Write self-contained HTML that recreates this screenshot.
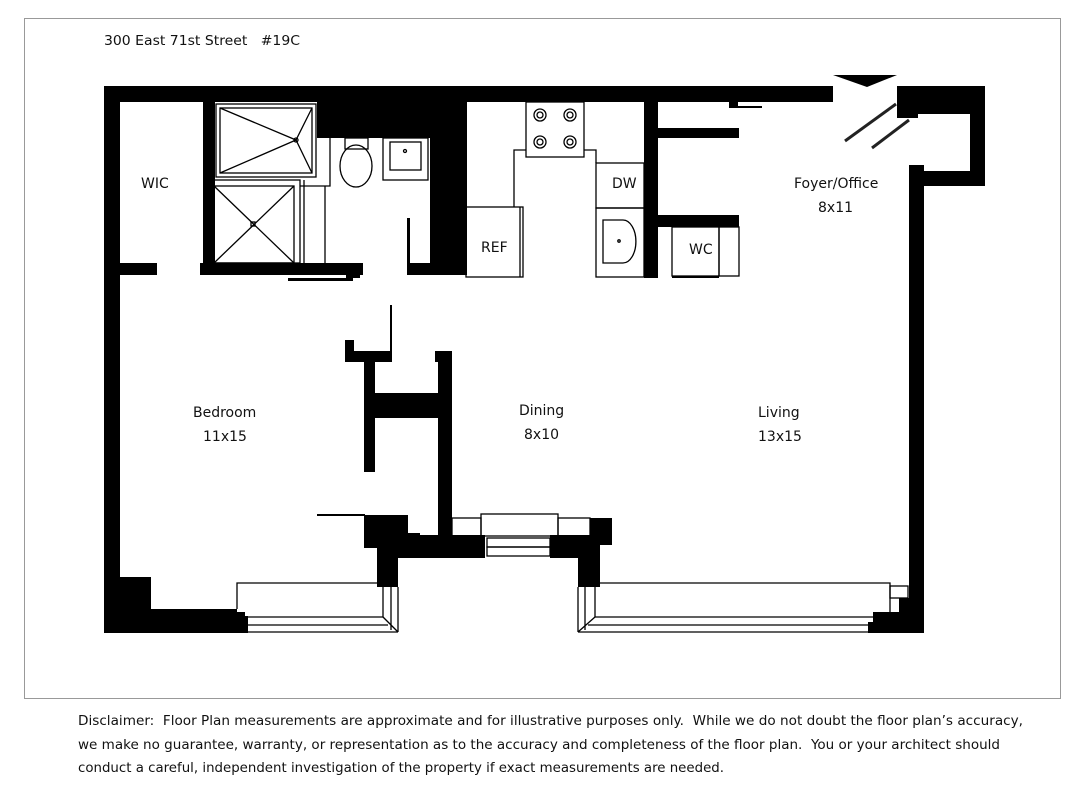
<!DOCTYPE html>
<html><head><meta charset="utf-8"><style>
html,body{margin:0;padding:0;background:#fff;}
svg{display:block;}
text{font-family:"DejaVu Sans","Liberation Sans",sans-serif;fill:#111;}
</style></head><body>
<svg width="1084" height="800" viewBox="0 0 1084 800" xmlns="http://www.w3.org/2000/svg">
<rect x="0" y="0" width="1084" height="800" fill="#fff"/>
<rect x="24.5" y="18.5" width="1036" height="680" fill="none" stroke="#999" stroke-width="1"/>
<text x="104" y="45" font-size="13" textLength="196" lengthAdjust="spacingAndGlyphs">300 East 71st Street&#160;&#160;&#160;#19C</text>

<g fill="#000">
<!-- top wall -->
<rect x="104" y="86" width="729" height="16"/>
<!-- door header triangle -->
<polygon points="833,75 897,75 867,87"/>
<!-- right top section -->
<rect x="897" y="86" width="88" height="28"/>
<rect x="897" y="86" width="21" height="32"/>
<rect x="970" y="86" width="15" height="100"/>
<rect x="918" y="171" width="67" height="15"/>
<rect x="909" y="165" width="15" height="20"/>
<!-- right wall -->
<rect x="909" y="171" width="15" height="462"/>
<!-- left wall -->
<rect x="104" y="86" width="16" height="547"/>
<rect x="104" y="577" width="47" height="56"/>
<rect x="104" y="609" width="133" height="24"/>
<rect x="230" y="612" width="15" height="21"/>
<rect x="237" y="616" width="11" height="17"/>
<!-- bottom right corner -->
<rect x="899" y="598" width="25" height="35"/>
<rect x="873" y="612" width="51" height="21"/>
<rect x="868" y="622" width="56" height="11"/>
<!-- bath walls -->
<rect x="203" y="102" width="12" height="173"/>
<rect x="317" y="102" width="150" height="36"/>
<rect x="430" y="102" width="37" height="173"/>
<rect x="200" y="263" width="163" height="12"/>
<rect x="346" y="270" width="14" height="8"/>
<rect x="288" y="278" width="65" height="3"/>
<rect x="104" y="263" width="53" height="12"/>
<rect x="407" y="218" width="3" height="57"/>
<rect x="407" y="263" width="23" height="12"/>
<!-- kitchen / closet -->
<rect x="644" y="102" width="14" height="176"/>
<rect x="656" y="128" width="83" height="10"/>
<rect x="729" y="102" width="9" height="6"/>
<rect x="738" y="106" width="24" height="2"/>
<rect x="656" y="215" width="83" height="12"/>
<rect x="672" y="276" width="47" height="2"/>
<!-- central partitions -->
<rect x="390" y="305" width="2" height="47"/>
<rect x="345" y="340" width="9" height="22"/>
<rect x="345" y="351" width="47" height="11"/>
<rect x="364" y="351" width="11" height="121"/>
<rect x="364" y="393" width="88" height="25"/>
<rect x="438" y="351" width="14" height="186"/>
<rect x="435" y="351" width="17" height="11"/>
<rect x="317" y="514" width="48" height="2"/>
<rect x="364" y="515" width="44" height="33"/>
<rect x="364" y="533" width="56" height="15"/>
<rect x="377" y="535" width="108" height="23"/>
<rect x="377" y="548" width="21" height="39"/>
<rect x="550" y="535" width="50" height="23"/>
<rect x="590" y="518" width="22" height="27"/>
<rect x="578" y="545" width="22" height="42"/>
</g>

<g fill="none" stroke="#000" stroke-width="1.3">
<!-- tub -->
<rect x="216" y="104" width="100" height="73"/>
<rect x="220" y="108" width="92" height="65"/>
<polyline points="220,108 296,140 312,108"/>
<polyline points="220,173 296,140 312,173"/>
<circle cx="296" cy="140" r="2"/>
<!-- shower -->
<rect x="214" y="180" width="86" height="83"/>
<rect x="214" y="186" width="80" height="77"/>
<line x1="214" y1="186" x2="294" y2="263"/>
<line x1="294" y1="186" x2="214" y2="263"/>
<rect x="251" y="222" width="4" height="4"/>
<line x1="304" y1="180" x2="304" y2="263"/>
<line x1="325" y1="186" x2="325" y2="263"/>
<polyline points="300,186 330,186 330,138"/>
<!-- toilet -->
<rect x="345" y="138" width="23" height="11"/>
<ellipse cx="356" cy="166" rx="16" ry="21"/>
<!-- sink -->
<rect x="383" y="138" width="45" height="42"/>
<rect x="390" y="142" width="31" height="28"/>
<circle cx="405" cy="151" r="1.5"/>
<!-- kitchen -->
<rect x="526" y="102" width="58" height="55"/>
<circle cx="540" cy="115" r="6"/><circle cx="570" cy="115" r="6"/>
<circle cx="540" cy="142" r="6"/><circle cx="570" cy="142" r="6"/>
<circle cx="540" cy="115" r="3"/><circle cx="570" cy="115" r="3"/>
<circle cx="540" cy="142" r="3"/><circle cx="570" cy="142" r="3"/>
<polyline points="514,207 514,150 526,150"/>
<polyline points="584,150 596,150 596,163"/>
<rect x="466" y="207" width="57" height="70"/>
<line x1="520" y1="207" x2="520" y2="277"/>
<rect x="596" y="163" width="48" height="45"/>
<rect x="596" y="208" width="48" height="69"/>
<path d="M603,220 L623,220 A12,20 0 0 1 623,263 L603,263 Z"/>
<circle cx="619" cy="241" r="1.2"/>
<rect x="672" y="227" width="47" height="49"/>
<rect x="719" y="227" width="20" height="49"/>
<!-- dining window -->
<rect x="481" y="514" width="77" height="22"/>
<rect x="452" y="518" width="29" height="18"/>
<rect x="558" y="518" width="32" height="18"/>
<rect x="487" y="538" width="63" height="9"/>
<rect x="487" y="547" width="63" height="9"/>
<!-- left window -->
<polyline points="237,609 237,583 383,583"/>
<line x1="248" y1="617" x2="383" y2="617"/>
<line x1="248" y1="625" x2="388" y2="625"/>
<line x1="248" y1="632" x2="398" y2="632"/>
<line x1="383" y1="587" x2="383" y2="617"/>
<line x1="391" y1="587" x2="391" y2="630"/>
<line x1="398" y1="587" x2="398" y2="632"/>
<line x1="383" y1="617" x2="398" y2="632"/>
<!-- right window -->
<polyline points="890,612 890,583 600,583"/>
<line x1="595" y1="617" x2="873" y2="617"/>
<line x1="588" y1="625" x2="868" y2="625"/>
<line x1="578" y1="632" x2="868" y2="632"/>
<line x1="578" y1="587" x2="578" y2="632"/>
<line x1="585" y1="587" x2="585" y2="630"/>
<line x1="595" y1="587" x2="595" y2="617"/>
<line x1="595" y1="617" x2="578" y2="632"/>
<rect x="890" y="586" width="18" height="12"/>
</g>
<!-- door lines -->
<g stroke="#222" stroke-width="3">
<line x1="845" y1="141" x2="896" y2="104"/>
<line x1="872" y1="148" x2="909" y2="120"/>
</g>

<g font-size="14">
<text x="141" y="188">WIC</text>
<text x="481" y="252">REF</text>
<text x="612" y="188">DW</text>
<text x="689" y="254">WC</text>
<text x="794" y="188">Foyer/Office</text>
<text x="818" y="212">8x11</text>
<text x="193" y="417">Bedroom</text>
<text x="203" y="441">11x15</text>
<text x="519" y="415">Dining</text>
<text x="524" y="439">8x10</text>
<text x="758" y="417">Living</text>
<text x="758" y="441">13x15</text>
</g>
<g font-size="13.5">
<text x="78" y="725" textLength="945" lengthAdjust="spacingAndGlyphs">Disclaimer:&#160; Floor Plan measurements are approximate and for illustrative purposes only.&#160; While we do not doubt the floor plan’s accuracy,</text>
<text x="78" y="749" textLength="922" lengthAdjust="spacingAndGlyphs">we make no guarantee, warranty, or representation as to the accuracy and completeness of the floor plan.&#160; You or your architect should</text>
<text x="78" y="772" textLength="646" lengthAdjust="spacingAndGlyphs">conduct a careful, independent investigation of the property if exact measurements are needed.</text>
</g>
</svg>
</body></html>
